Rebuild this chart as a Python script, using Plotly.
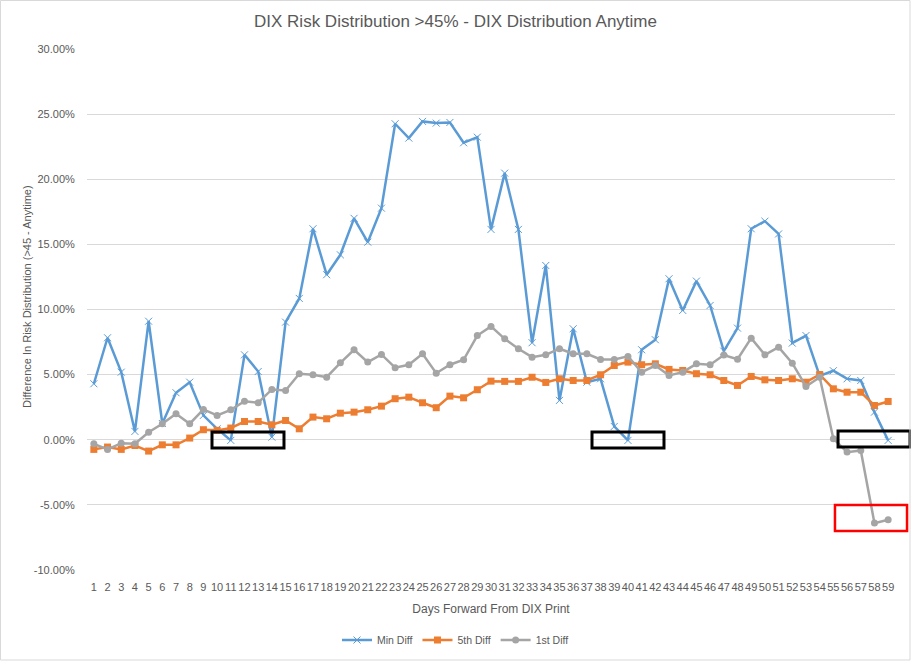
import plotly.graph_objects as go

days = [str(i) for i in range(1, 60)]

min_diff = [4.30, 7.83, 5.19, 0.64, 9.10, 1.25, 3.61, 4.42, 1.87, 0.84,
            -0.05, 6.52, 5.24, 0.20, 9.03, 10.85, 16.20, 12.67, 14.20, 17.00,
            15.17, 17.78, 24.26, 23.16, 24.44, 24.31, 24.36, 22.80, 23.23, 16.15,
            20.47, 16.15, 7.45, 13.38, 3.02, 8.52, 4.42, 4.68, 1.02, -0.05,
            6.91, 7.68, 12.36, 9.93, 12.18, 10.31, 6.80, 8.57, 16.20, 16.78,
            15.80, 7.42, 8.00, 4.90, 5.30, 4.68, 4.55, 2.12, -0.05]

fifth_diff = [-0.74, -0.56, -0.74, -0.44, -0.87, -0.39, -0.39, 0.13, 0.77, 0.72,
              0.90, 1.40, 1.40, 1.15, 1.48, 0.84, 1.74, 1.61, 2.04, 2.12,
              2.30, 2.58, 3.15, 3.27, 2.84, 2.46, 3.35, 3.22, 3.84, 4.50,
              4.48, 4.48, 4.80, 4.40, 4.68, 4.55, 4.55, 4.99, 5.70, 5.96,
              5.76, 5.83, 5.40, 5.32, 5.07, 4.99, 4.55, 4.17, 4.86, 4.60,
              4.55, 4.68, 4.42, 5.01, 3.91, 3.65, 3.65, 2.63, 2.94]

first_diff = [-0.31, -0.74, -0.26, -0.31, 0.58, 1.23, 2.00, 1.23, 2.33, 1.87,
              2.30, 2.96, 2.84, 3.86, 3.78, 5.07, 4.99, 4.80, 5.91, 6.91,
              5.96, 6.55, 5.53, 5.76, 6.60, 5.11, 5.76, 6.14, 8.00, 8.70,
              7.75, 6.99, 6.34, 6.52, 6.99, 6.60, 6.60, 6.16, 6.16, 6.40,
              5.19, 5.70, 4.94, 5.19, 5.83, 5.76, 6.50, 6.18, 7.80, 6.52,
              7.11, 5.88, 4.09, 4.80, 0.08, -0.95, -0.82, -6.40, -6.14]

y_ticks = [-10, -5, 0, 5, 10, 15, 20, 25, 30]
y_ticktext = [f"{v:.2f}%" for v in y_ticks]

FONT = "Liberation Sans Narrow, Liberation Sans, Arial"
TXT = "#595959"

fig = go.Figure()
fig.add_trace(go.Scatter(x=days, y=min_diff, name="Min Diff", mode="lines+markers",
                         line=dict(color="#5b9bd5", width=2.5),
                         marker=dict(symbol="x-thin", size=7, color="#5b9bd5",
                                     line=dict(color="#5b9bd5", width=1))))
fig.add_trace(go.Scatter(x=days, y=fifth_diff, name="5th Diff", mode="lines+markers",
                         line=dict(color="#ed7d31", width=2.5),
                         marker=dict(symbol="square", size=7, color="#ed7d31")))
fig.add_trace(go.Scatter(x=days, y=first_diff, name="1st Diff", mode="lines+markers",
                         line=dict(color="#a5a5a5", width=2.5),
                         marker=dict(symbol="circle", size=7, color="#a5a5a5")))

boxes = [
    (0.1547, 0.2438, 0.2342, 0.2649, "black", 3),
    (0.6250, 0.7141, 0.2342, 0.2649, "black", 3),
    (0.9295, 1.0186, 0.2361, 0.2668, "black", 3),
    (0.9257, 1.0149, 0.0749, 0.1248, "red", 2.5),
]
shapes = [dict(type="rect", xref="paper", yref="paper", x0=a, x1=b, y0=c, y1=d,
               line=dict(color=col, width=w), fillcolor="rgba(0,0,0,0)", layer="above")
          for a, b, c, d, col, w in boxes]
shapes.append(dict(type="rect", xref="paper", yref="paper",
                   x0=(0.5 - 87) / 808, x1=(910 - 87) / 808,
                   y0=(570 - 660) / 521, y1=(570 - 0.5) / 521,
                   line=dict(color="#d9d9d9", width=1)))

fig.update_layout(
    width=911, height=661,
    margin=dict(l=87, r=16, t=49, b=91, autoexpand=False),
    paper_bgcolor="white", plot_bgcolor="white",
    font=dict(family=FONT, color=TXT, size=11),
    title=dict(text="DIX Risk Distribution >45% - DIX Distribution Anytime",
               x=0.5, xanchor="center", y=1 - 21 / 661, yanchor="middle",
               font=dict(size=17, color=TXT, family=FONT)),
    xaxis=dict(type="category", range=[-0.5, 58.5], showgrid=False, zeroline=False,
               showline=False, tickfont=dict(size=11, color=TXT), tickangle=0,
               ticks="outside", ticklen=7, tickcolor="rgba(0,0,0,0)", automargin=False,
               title=dict(text="Days Forward From DIX Print", font=dict(size=12, color=TXT),
                          standoff=12)),
    yaxis=dict(range=[-10, 30], tickvals=y_ticks, ticktext=y_ticktext, automargin=False,
               showgrid=True, gridcolor="#d9d9d9", gridwidth=1, zeroline=False,
               showline=False, tickfont=dict(size=11, color=TXT),
               ticks="outside", ticklen=9, tickcolor="rgba(0,0,0,0)"),
    legend=dict(orientation="h", xref="container", yref="container",
                x=0.5, xanchor="center", y=1 - 640 / 661, yanchor="middle",
                font=dict(size=10.5, color=TXT), itemwidth=30),
    annotations=[dict(text="Difference In Risk Distribution (>45 - Anytime)",
                      xref="paper", yref="paper", x=(27 - 87) / 808, y=(570 - 297) / 521,
                      xanchor="center", yanchor="middle", textangle=-90, showarrow=False,
                      font=dict(size=11, color=TXT))],
    shapes=shapes,
    showlegend=True,
)

fig.write_html("out.html", config={"displayModeBar": False},
               post_script="document.body.style.margin='0';")
